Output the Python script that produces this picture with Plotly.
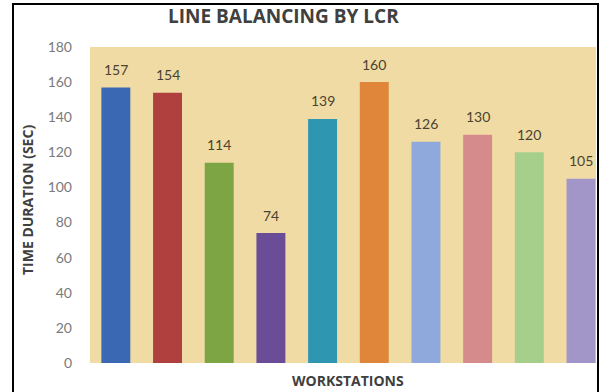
import plotly.graph_objects as go

workstations = ["WS1", "WS2", "WS3", "WS4", "WS5", "WS6", "WS7", "WS8", "WS9", "WS10"]
durations = [157, 154, 114, 74, 139, 160, 126, 130, 120, 105]
bar_colors = ["#3A68B2", "#B0403E", "#7EA544", "#6B4C96", "#2F96B2",
              "#E0863A", "#8FA9DC", "#D58A8C", "#A6CF8C", "#A295C8"]
y_ticks = [0, 20, 40, 60, 80, 100, 120, 140, 160, 180]

FONT = "Lato"
TFONT = "Open Sans"
x_idx = list(range(len(workstations)))

# plot area in pixels: x 90..596, y 47..363
PL, PR, PT, PB = 90, 596, 47, 363
PW, PH = PR - PL, PB - PT


def px(x):
    return (x - PL) / PW


def py(y):
    return (PB - y) / PH


fig = go.Figure()
fig.add_trace(go.Bar(
    x=x_idx, y=durations,
    marker=dict(color=bar_colors, line=dict(width=0)),
    hoverinfo="skip",
))

anns = []
for xi, v in zip(x_idx, durations):
    anns.append(dict(x=xi, y=v, xref="x", yref="y", text=str(v),
                     showarrow=False, yshift=18,
                     font=dict(family=FONT, size=14, color="#4a4330")))

anns.append(dict(x=px(283), y=py(16), xref="paper", yref="paper",
                 text="<b>LINE BALANCING BY LCR</b>", showarrow=False,
                 xanchor="center", yanchor="middle",
                 font=dict(family=TFONT, size=19, color="#404040")))
anns.append(dict(x=px(348), y=py(380), xref="paper", yref="paper",
                 text="<b>WORKSTATIONS</b>", showarrow=False,
                 xanchor="center", yanchor="middle",
                 font=dict(family=TFONT, size=14, color="#404040")))
anns.append(dict(x=px(27), y=py(200), xref="paper", yref="paper",
                 text="<b>TIME DURATION (SEC)</b>", showarrow=False, textangle=-90,
                 xanchor="center", yanchor="middle",
                 font=dict(family=TFONT, size=14, color="#404040")))

fig.update_layout(
    width=600, height=392,
    margin=dict(l=PL, r=600 - PR, t=PT, b=392 - PB),
    paper_bgcolor="white",
    plot_bgcolor="#F0DBA4",
    showlegend=False,
    bargap=0.44,
    annotations=anns,
    xaxis=dict(range=[-0.5, 9.29], showticklabels=False, showgrid=False,
               zeroline=False, showline=False, ticks=""),
    yaxis=dict(range=[0, 180], tickvals=y_ticks, showgrid=False, zeroline=False,
               showline=False, ticks="", ticklabelstandoff=17,
               tickfont=dict(family=FONT, size=14, color="#7a7a7a")),
)

# outer frame
fig.add_shape(type="rect", xref="paper", yref="paper",
              x0=px(13), x1=px(598), y0=py(400), y1=py(4),
              line=dict(color="black", width=2), fillcolor="rgba(0,0,0,0)", layer="above")

fig.write_html("out.html")
